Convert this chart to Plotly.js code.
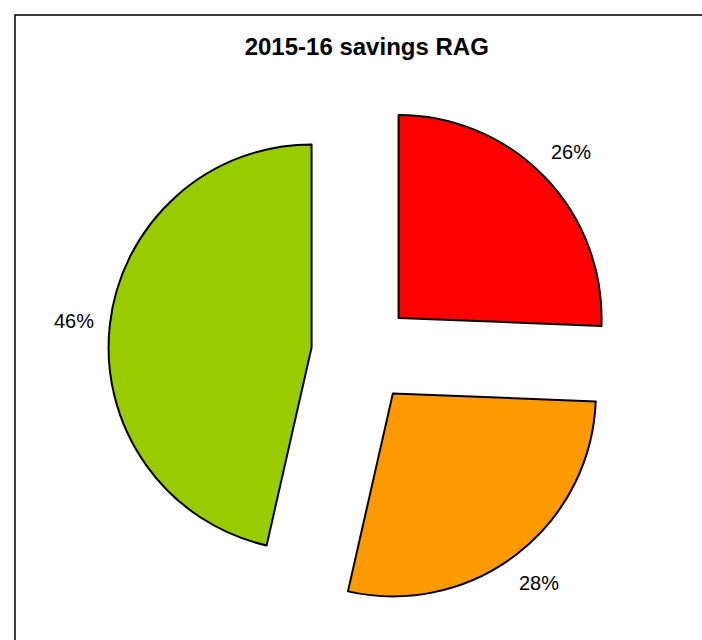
<!DOCTYPE html>
<html>
<head>
<meta charset="utf-8">
<script src="https://cdn.plot.ly/plotly-3.0.1.min.js"></script>
<style>html,body{margin:0;padding:0;background:#fff;}#chart{width:702px;height:640px;}</style>
</head>
<body>
<div id="chart"></div>
<script>
var categories = ["Red", "Amber", "Green"];
var values = [25.6, 27.9, 46.4];
var colors = ["#ff0000", "#ff9900", "#99cc00"];
var chartTitle = "2015-16 savings RAG";

var pullFrac = 0.25;
var domX = [0.1357, 0.8745], domY = [0.053, 0.865];
var M = {l: 15, t: 15, r: 0, b: 0}, W = 702, H = 640;

var trace = {
  type: "pie",
  labels: categories,
  values: values,
  sort: false,
  direction: "clockwise",
  rotation: 0,
  pull: categories.map(function(){ return pullFrac; }),
  marker: {colors: colors, line: {color: "#000", width: 2}},
  textinfo: "none",
  hoverinfo: "none",
  showlegend: false,
  domain: {x: domX, y: domY}
};

// percentage labels placed outside each slice, at the slice's mid-angle
var pw = W - M.l - M.r, ph = H - M.t - M.b;
var boxW = pw * (domX[1] - domX[0]), boxH = ph * (domY[1] - domY[0]);
var cxPx = pw * (domX[0] + domX[1]) / 2;
var cyPx = ph * (1 - domY[0]) - boxH / 2;
var r = Math.min(boxW, boxH) / 2 / (1 + pullFrac);
var total = values.reduce(function(a, b){ return a + b; }, 0);
var annotations = [];
var cum = 0;
values.forEach(function(v){
  var mid = (cum + v / 2) / total * 2 * Math.PI;
  cum += v;
  var dist = r * (pullFrac + 1.18);
  var px = cxPx + dist * Math.sin(mid);
  var py = cyPx - dist * Math.cos(mid);
  annotations.push({
    xref: "paper", yref: "paper", x: px / pw, y: 1 - py / ph,
    xanchor: "center", yanchor: "middle", showarrow: false,
    text: Math.round(v / total * 100) + "%",
    font: {family: "Liberation Sans, Arial, sans-serif", size: 20, color: "#000"}
  });
});

var layout = {
  width: W, height: H,
  margin: M,
  paper_bgcolor: "#fff",
  title: {text: "<b>" + chartTitle + "</b>", font: {family: "Liberation Sans, Arial, sans-serif", size: 24, color: "#000"},
          x: 0.512, xref: "paper", xanchor: "center", y: 1 - 47 / 640, yref: "container", yanchor: "middle"},
  annotations: annotations,
  shapes: [{type: "rect", xref: "paper", yref: "paper", x0: 0, x1: 1.05, y0: -0.05, y1: 1,
            line: {color: "#000", width: 1.5}, fillcolor: "rgba(0,0,0,0)"}]
};

Plotly.newPlot("chart", [trace], layout, {displayModeBar: false, staticPlot: true});
</script>
</body>
</html>
